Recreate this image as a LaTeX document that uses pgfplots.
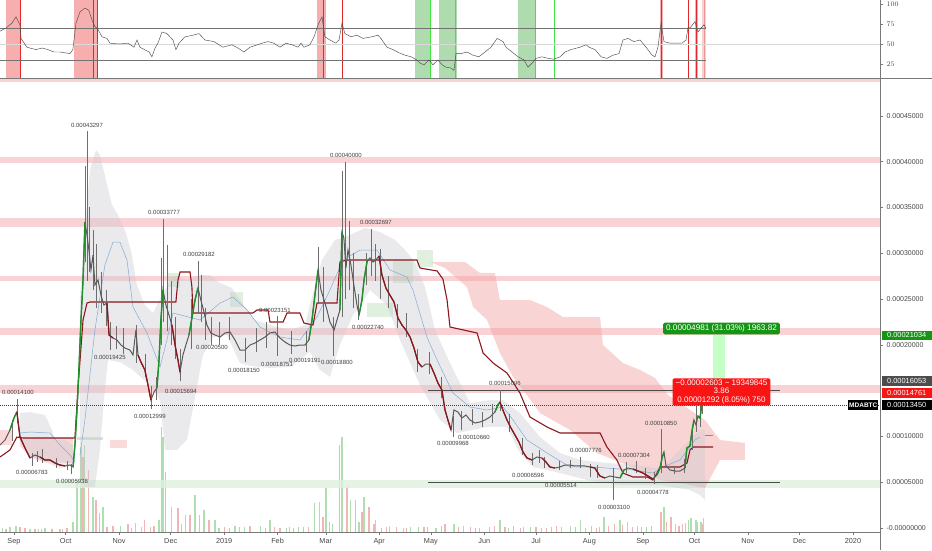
\documentclass[border=0pt]{standalone}
\usepackage{pgfplots}
\pgfplotsset{compat=1.18}
\usepackage{pgfplotstable}
\usepackage{fontspec}
\setmainfont{Liberation Sans}

\definecolor{zone}{RGB}{249,210,214}
\definecolor{zoneg}{RGB}{222,240,222}
\definecolor{patchg}{RGB}{150,205,150}
\definecolor{cloudg}{RGB}{200,200,208}
\definecolor{kumo}{RGB}{242,160,160}
\definecolor{dkred}{RGB}{140,22,28}
\definecolor{cgreen}{RGB}{30,145,40}
\definecolor{maline}{RGB}{130,170,215}
\definecolor{axisgray}{RGB}{120,120,120}
\definecolor{txt}{RGB}{70,70,70}
\definecolor{tvgreen}{RGB}{20,150,20}
\definecolor{tvred}{RGB}{250,20,20}
\definecolor{volg}{RGB}{175,222,175}
\definecolor{volr}{RGB}{242,180,180}
\definecolor{wick}{RGB}{110,110,110}
\definecolor{rsired}{RGB}{242,140,140}
\definecolor{rsiredl}{RGB}{225,40,40}
\definecolor{rsigreen}{RGB}{140,205,140}
\definecolor{rsigreenl}{RGB}{60,230,60}

% close prices, in units of 1e-8 BTC
\pgfplotstableread{
d c
-8.1 9061
-5.2 9607
-2.3 10699
0.0 12009
1.7 12664
3.5 9934
6.4 8734
9.3 7642
12.2 7969
15.1 7751
18.0 7424
20.9 7424
23.8 7096
26.7 6878
29.6 6769
32.5 6878
34.3 6659
35.4 9061
36.6 12882
37.7 17249
38.9 22707
40.1 27074
41.2 33406
42.4 31987
43.5 30349
44.7 28166
45.9 29803
47.0 26528
48.8 27074
50.5 25437
52.2 24345
54.0 24563
55.2 21070
57.5 20742
59.8 20524
62.1 19978
64.4 19651
67.3 19432
69.1 18886
70.8 21616
72.0 18886
73.7 18122
76.0 17249
77.8 15611
79.5 13974
81.3 14847
83.0 15284
84.2 18341
85.3 22707
86.5 25982
88.2 24345
90.0 23253
91.7 22162
93.5 19978
95.2 18341
96.4 17031
98.1 18886
99.8 19978
101.6 21070
103.3 22926
105.1 24891
106.8 26201
108.5 24891
110.3 23581
112.0 22162
114.3 21288
116.7 21070
119.6 20851
122.5 21288
125.4 21397
128.3 20524
131.2 19432
134.1 19432
137.0 19978
139.9 20196
142.8 20524
145.7 20851
148.6 21288
151.5 21397
154.4 20742
157.3 20306
160.2 19978
163.1 19869
166.0 19978
168.9 19978
171.2 20524
173.0 22707
174.7 25437
176.5 28166
178.2 25982
180.0 24891
181.7 23799
183.4 22489
185.8 21616
187.5 22707
189.2 23799
190.4 32314
191.5 31659
192.7 28384
193.9 30349
195.6 28712
197.3 26528
199.1 24345
200.3 23253
202.0 24891
203.2 27074
204.9 29039
206.6 29476
208.4 29039
210.1 29258
211.9 29694
213.6 27620
215.9 26201
218.2 25437
220.6 24672
222.9 22926
225.2 22162
227.5 21616
229.9 20851
232.2 19651
234.5 18122
236.8 17576
239.1 17904
241.5 17904
243.8 16921
246.1 15830
248.4 15065
250.2 12882
251.9 11790
253.7 10699
255.4 12882
257.7 12664
260.0 12009
262.4 12336
264.7 11790
267.6 11463
270.5 11572
273.4 11790
276.3 12118
279.2 12664
280.9 13428
282.1 13755
283.8 12882
286.2 11790
288.5 10917
290.8 10153
293.1 9389
295.5 8297
297.8 7642
300.7 7424
303.6 7751
306.5 7642
308.8 7205
311.1 6659
314.0 6550
316.9 6659
319.8 6878
322.7 6878
325.6 6769
328.5 6769
331.4 6769
334.3 6659
337.2 6550
340.1 5677
343.0 5459
345.9 5677
348.8 5568
351.8 5459
354.1 6332
356.4 6550
359.3 6441
362.2 6223
365.1 6004
368.0 5677
370.9 5349
373.2 5786
375.0 6550
376.2 7642
377.3 8297
378.5 6769
380.8 6332
383.7 6223
386.6 6223
389.5 6550
390.6 8734
392.4 8952
393.5 10480
394.7 11790
395.9 11245
397.0 12227
398.2 12009
399.3 13450
}\closes

% wicks: low and high
\pgfplotstableread{
d lo hi
-1.2 9500 11800
1.7 11500 14100
10.5 6783 8200
13.5 7200 8400
16.3 7100 8600
24.4 6500 7600
30.8 6300 7300
33.0 5938 7000
41.2 29000 39500
42.4 27000 43297
43.5 28000 35000
45.9 26000 32500
47.6 24000 31000
50.5 23500 28000
53.4 22000 26000
56.0 19425 22500
59.2 19500 22000
63.3 19000 21800
70.8 18000 22200
76.0 16500 19000
79.5 12999 15500
82.5 14000 16500
85.3 20000 29500
86.9 22500 33777
88.8 21500 30900
91.1 20000 27000
93.5 18500 23000
96.4 16000 19500
102.7 19500 25000
106.8 23500 29182
108.5 22500 27600
111.1 20500 24000
114.3 20000 23000
119.0 20000 22500
124.8 20500 23000
134.1 18150 20700
140.5 19200 21800
146.3 19700 22500
152.7 18751 23151
160.8 19000 21500
169.5 19191 21500
176.5 24500 30700
179.4 22500 28500
185.2 18800 23000
190.4 23000 39000
192.1 25000 40000
194.5 26000 33500
196.8 24000 30000
199.7 22740 25500
204.3 26500 30000
207.2 27500 32697
209.5 27000 31000
212.5 25000 30500
217.1 24000 27500
222.3 21800 24500
227.5 20800 23500
234.0 17000 19500
240.9 16800 19200
247.8 14200 16500
254.8 9968 12200
259.4 10660 12800
265.9 11200 13000
271.7 11000 12700
277.5 11500 13500
282.1 12800 15096
287.3 10500 12500
294.9 8000 9800
300.7 6900 8200
304.8 7100 8500
307.7 6596 7800
316.3 6300 7300
322.7 6500 7400
328.5 6500 7776
334.3 5514 7000
338.3 5500 6900
347.7 3100 6500
355.3 6000 7200
361.1 6000 7304
366.3 5400 6500
371.5 4778 6100
375.6 6000 10850
383.1 5900 6800
389.0 6000 7500
393.5 8500 11000
395.9 10500 13400
398.2 11000 13600
399.3 12500 13700
}\wicks

% RSI
\pgfplotstableread{
d r
-8.1 66
-4.6 70
-1.2 76
1.2 84
3.5 74
4.1 57
7.5 46
12.8 43
16.3 45
19.7 43
23.2 40
26.7 40
29.6 39
32.5 38
34.2 43
36.0 76
38.3 90
41.2 95
43.5 92
45.3 80
47.0 72
48.8 68
51.1 59
54.0 57
55.7 51
61.0 50
66.2 51
69.7 46
71.4 55
73.1 46
78.4 40
80.1 34
81.9 45
83.6 51
85.9 65
88.8 63
92.3 55
94.0 43
95.8 51
99.3 59
103.9 61
107.4 63
110.9 55
116.1 53
121.3 46
126.5 49
130.0 45
133.5 40
137.0 46
144.0 51
147.4 53
150.9 51
154.4 46
157.9 51
161.4 49
164.9 46
166.6 51
168.3 46
171.8 49
174.2 59
176.5 74
178.8 84
180.5 59
183.4 55
186.9 51
188.7 55
190.4 76
192.1 63
195.6 59
199.1 61
202.6 57
207.8 59
211.3 61
213.0 57
216.5 46
220.0 43
223.5 39
227.0 36
230.5 34
233.9 30
235.7 26
238.0 24
240.9 30
243.2 24
246.1 30
248.5 24
250.8 21
253.7 20
255.4 17
256.6 38
259.5 38
263.0 40
266.5 36
269.9 34
273.4 40
276.9 46
280.4 57
283.9 53
285.6 46
289.1 40
292.6 34
296.1 30
298.4 21
300.7 26
303.0 32
306.5 34
310.0 32
313.5 31
317.0 34
319.9 40
323.3 43
328.6 46
332.1 49
333.8 46
337.3 43
340.8 34
344.2 32
347.7 36
351.2 38
353.5 55
356.4 57
359.9 53
363.4 55
366.9 46
370.4 36
372.1 34
373.8 46
375.6 76
377.3 53
380.8 51
384.3 51
387.8 51
390.1 55
391.3 71
392.4 70
395.3 78
397.1 65
398.8 70
400.5 74
401.7 70
}\rsi

\begin{document}
\begin{tikzpicture}
\useasboundingbox (0pt,0pt) rectangle (932pt,550pt);

% ---------- volume ----------
\begin{axis}[at={(0pt,18pt)}, anchor=south west, width=880pt, height=452pt,
  scale only axis, xmin=-8.1, xmax=502.7, ymin=0, ymax=452, hide axis]
\addplot[ycomb, volg, line width=1.1pt] coordinates {
(-6.9,4)(-2.3,5)(1.2,6)(9.3,3)(14.5,3)(18.0,4)(26.7,3)(34.3,10)(36.6,52)(38.9,85)
(41.2,87)(45.9,35)(51.7,25)(58,4)(62.1,6)(70.8,9)(74,5)(84.2,12)(86.5,95)(91.7,25)
(95,6)(99.8,17)(105.1,37)(110.3,22)(116.7,12)(119,4)(128.3,6)(134,5)(143,6)(148.6,12)
(158,4)(160.2,5)(165,5)(174.7,29)(177.6,30)(181.1,44)(185,8)(190.4,95)(195.6,32)
(200.3,10)(203.2,35)(210.1,12)(218,6)(226,4)(230.0,5)(235,5)(245,4)(255.4,8)(261,6)
(270,4)(276,5)(282.1,12)(287,4)(296,5)(300.0,5)(306,4)(318,5)(323,6)(328.6,12)
(332,4)(340,5)(342.5,15)(351.8,12)(356,10)(362,6)(367,5)(377.3,25)(384,8)(391.3,12)
(393,14)(395.9,12)(398.8,10)(400.5,14)};
\addplot[ycomb, volr, line width=1.1pt] coordinates {
(-4.6,3)(3.5,5)(6.4,4)(12.2,3)(16,3)(22.1,3)(28,3)(30.8,4)(40.1,75)(43.5,62)
(47.6,32)(49.4,19)(54,5)(57.5,6)(66.2,8)(68,4)(76.0,12)(79,5)(81.3,6)(85.6,105)
(88.2,60)(95.2,24)(97,8)(102.2,17)(107.9,17)(113.2,12)(122.0,5)(125,4)(131,5)(137.0,6)
(146,4)(151,5)(154.4,4)(162,4)(168.3,5)(171,5)(179.4,15)(183,10)(189.2,87)(193.3,45)
(198.5,32)(202,20)(206.1,25)(209,8)(213.6,4)(216,5)(222.0,5)(228,4)(238,5)(240.0,5)
(248,6)(250.2,8)(258,5)(265.0,5)(268,4)(279,6)(285,5)(290.0,6)(294,4)(303,5)
(309,4)(312.0,5)(315,6)(326,5)(335.0,6)(338,4)(345,6)(348.8,8)(353,7)(359,5)
(364,5)(370.0,6)(375.6,20)(379,10)(381.4,15)(386,6)(388.0,8)(390,9)(397.0,10)(399.5,8)};
\end{axis}

% ---------- price panel ----------
\begin{axis}[at={(0pt,18pt)}, anchor=south west, width=880pt, height=452pt,
  scale only axis, clip=false, scaled y ticks=false,
  xmin=-8.1, xmax=502.7, ymin=-437, ymax=48910,
  axis x line*=bottom, axis y line*=right,
  axis line style={axisgray, line width=0.6pt, -},
  xtick={0,30,61,91,122,153,181,212,242,273,303,334,365,395,426,456,487},
  xticklabels={Sep,Oct,Nov,Dec,2019,Feb,Mar,Apr,May,Jun,Jul,Aug,Sep,Oct,Nov,Dec,2020},
  ytick={0,5000,10000,20000,25000,30000,35000,40000,45000},
  yticklabels={-0.00000000,0.00005000,0.00010000,0.00020000,0.00025000,0.00030000,0.00035000,0.00040000,0.00045000},
  tick align=outside, major tick length=3pt,
  tick style={axisgray, line width=0.5pt},
  xticklabel style={font=\fontsize{7.3}{8}\selectfont, text=txt},
  yticklabel style={font=\fontsize{7}{8}\selectfont, text=txt},
]
% horizontal zones
\addplot[fill=zone, draw=none] coordinates {(-8.1,48690)(502.7,48690)(502.7,48910)(-8.1,48910)} -- cycle;
\addplot[fill=zone, draw=none] coordinates {(-8.1,39850)(502.7,39850)(502.7,40500)(-8.1,40500)} -- cycle;
\addplot[fill=zone, draw=none] coordinates {(-8.1,32860)(502.7,32860)(502.7,33840)(-8.1,33840)} -- cycle;
\addplot[fill=zone, draw=none] coordinates {(-8.1,26970)(502.7,26970)(502.7,27510)(-8.1,27510)} -- cycle;
\addplot[fill=zone, draw=none] coordinates {(-8.1,21070)(502.7,21070)(502.7,21830)(-8.1,21830)} -- cycle;
\addplot[fill=zone, draw=none] coordinates {(-8.1,14740)(502.7,14740)(502.7,15610)(-8.1,15610)} -- cycle;
\addplot[fill=zoneg, draw=none, fill opacity=0.8] coordinates {(-8.1,4370)(502.7,4370)(502.7,5240)(-8.1,5240)} -- cycle;

% future cloud
\addplot[fill=kumo, draw=none, fill opacity=0.45] coordinates {
(241.5,29040)(261.8,29040)(270.5,27840)(279.2,27840)(282.1,24890)(299.5,24890)(309.4,24130)
(318.7,23030)(340.2,23030)(341.9,19980)(353.5,18010)(363.4,17250)(372.1,16380)(379.6,14520)
(392.4,12880)(401.1,11790)(409.8,9610)(424.3,9280)(424.3,7420)(409.8,7420)(401.1,4370)
(392.4,4690)(375.0,5240)(355.8,6880)(338.4,8190)(322.8,10700)(305.3,12550)(295.5,15070)
(289.7,16490)(282.1,19100)(274.6,22710)(266.5,24130)(263.0,26310)(250.2,28380)} -- cycle;
\addplot[fill=kumo, draw=none, fill opacity=0.4] coordinates {(3.5,9830)(34.3,9830)(34.3,7100)(18,7200)(9.3,7700)(3.5,9000)} -- cycle;
\addplot[fill=kumo, draw=none, fill opacity=0.4] coordinates {(-8.1,10700)(-1.2,10700)(-1.2,9060)(-8.1,9060)} -- cycle;
\addplot[fill=kumo, draw=none, fill opacity=0.4] coordinates {(55.7,9610)(65.6,9610)(65.6,8730)(55.7,8730)} -- cycle;
% green patches
\addplot[fill=patchg, draw=none, fill opacity=0.3] coordinates {(220.0,29260)(231.6,29260)(231.6,26750)(220.0,26750)} -- cycle;
\addplot[fill=patchg, draw=none, fill opacity=0.3] coordinates {(233.9,30350)(243.2,30350)(243.2,28490)(233.9,28490)} -- cycle;
\addplot[fill=patchg, draw=none, fill opacity=0.3] coordinates {(204.9,24560)(220.0,24560)(220.0,23030)(204.9,23030)} -- cycle;
\addplot[fill=patchg, draw=none, fill opacity=0.3] coordinates {(125.4,25760)(132.9,25760)(132.9,24130)(125.4,24130)} -- cycle;
\addplot[fill=patchg, draw=none, fill opacity=0.3] coordinates {(88.8,27840)(96.4,27840)(96.4,26310)(88.8,26310)} -- cycle;
\addplot[fill=patchg, draw=none, fill opacity=0.45] coordinates {(36.6,9930)(51.7,9930)(51.7,9610)(36.6,9610)} -- cycle;

% gray band
\addplot[fill=cloudg, draw=none, fill opacity=0.38] coordinates {
(3.5,12560)(9.3,12660)(18.0,12340)(22.1,10700)(23.8,9610)(29.6,9610)(34.3,9060)
(34.3,6880)(26.7,6550)(18.0,7210)(9.3,7970)(3.5,9610)} -- cycle;
\addplot[fill=cloudg, draw=none, fill opacity=0.38] coordinates {
(38.3,24890)(41.2,32530)(44.1,39080)(47.6,41270)(49.9,40720)(53.4,37990)(56.9,35260)(60.4,34170)
(64.4,32530)(67.9,30350)(71.4,26530)(76.0,24350)(80.7,23470)(86.5,25660)(92.3,27400)(100.4,27070)
(108.0,27620)(113.8,27620)(119.6,26750)(126.5,26200)(131.2,24890)(139.9,22710)(148.6,22160)
(160.2,21620)(168.9,22160)(174.7,26530)(178.8,29260)(186.3,31440)(195.0,31990)(203.8,32750)
(212.5,32310)(221.2,31440)(227.0,30350)(232.8,29040)(238.6,26310)(244.4,21620)(253.1,18010)
(264.7,13650)(276.3,13970)(283.9,13970)(293.7,12560)(305.3,9930)(317.0,8190)(328.6,7420)
(344.2,7100)(361.7,6880)(372.1,6550)(377.9,6880)(392.4,9610)(398.2,10700)(401.1,10700)
(401.1,3060)(398.2,3600)(392.4,4150)(375.0,4690)(351.8,4690)(332.6,5240)(317.0,6000)
(301.3,6660)(293.7,8190)(286.2,11030)(274.6,11030)(257.2,10370)(247.3,11790)(235.7,15610)
(224.1,20520)(216.5,24350)(206.7,25980)(196.8,23250)(189.2,19980)(183.4,16490)(177.6,17250)
(171.8,19210)(160.2,17580)(148.6,17470)(137.0,17690)(131.2,18010)(123.6,21070)(115.5,20850)
(109.7,18890)(106.2,15390)(100.4,9610)(94.6,8520)(87.7,8520)(84.8,13970)(78.9,15610)
(69.1,17250)(61.5,18120)(54.6,18340)(52.2,13970)(49.9,8520)(47.0,4480)(41.2,4480)(38.3,6330)} -- cycle;

% moving average
\addplot[maline, line width=0.5pt] coordinates {
(3.5,10370)(9.3,10480)(20.9,10370)(26.7,9060)(32.5,7970)(35.4,7210)};
\addplot[maline, line width=0.5pt] coordinates {
(38.3,7970)(41.2,11790)(47.0,21620)(52.8,28710)(57.5,31220)(61.5,31220)(65.6,29260)
(69.1,24130)(77.2,21290)(84.8,17580)(88.8,20520)(92.3,23470)(108.0,22710)(119.6,24560)
(127.1,25220)(135.3,23800)(142.8,21940)(154.4,20850)(166.0,20520)(175.9,23030)(183.4,25980)
(191.0,29260)(200.9,30350)(210.7,30350)(218.3,28170)(228.1,27400)(231.6,25980)(239.7,20850)
(245.6,18340)(254.8,14740)(264.7,13210)(274.6,12880)(283.9,13210)(289.7,11790)(297.8,9610)
(309.4,8190)(322.8,6660)(336.1,6660)(359.3,6330)(370.9,6000)(376.7,6660)(386.6,7420)
(395.3,9610)(398.2,9930)};
\addplot[maline!80!blue, line width=1pt] coordinates {(401.1,10150)(405.8,10150)};

% trailing line
\addplot[dkred, line width=1.1pt] coordinates {
(-8.1,7750)(-2.3,8520)(1.7,9930)(5.2,9830)(35.4,9830)(37.2,15390)(40.1,22710)(42.4,24560)
(44.1,24670)(94.0,24670)(95.2,27070)(96.4,27950)(102.2,27950)(103.3,26310)(103.9,23470)
(138.7,23470)(141.1,23800)(147.5,23800)(148.6,22490)(156.2,22490)(158.5,23470)(166.0,23470)
(168.3,22380)(173.6,22160)(175.9,24560)(187.5,24560)(189.2,29040)(193.3,29260)(233.9,29260)
(235.7,28380)(245.6,28060)(249.0,27180)(251.4,24890)(253.1,21940)(268.8,21290)(272.3,19100)
(278.1,18010)(286.2,16920)(293.7,14740)(299.5,12120)(309.4,11030)(317.0,10370)(340.2,10370)
(344.2,8840)(350.0,7420)(353.5,6000)(359.3,5570)(367.5,5570)(370.9,5240)(373.3,6000)
(375.0,6660)(386.6,6660)(390.7,7100)(392.4,8520)(394.2,8840)(405.8,8840)};

% reference lines
\addplot[black!70, line width=0.6pt] coordinates {(240.3,15070)(444.7,15070)};
\addplot[black!70, line width=0.6pt] coordinates {(240.3,5020)(444.7,5020)};
\addplot[black!75, line width=0.5pt, dash pattern=on 1pt off 1pt] coordinates {(-8.1,13450)(502.7,13450)};

% target zone
\addplot[fill=green!50!white, draw=none, fill opacity=0.45] coordinates {(405.7,16053)(412.7,16053)(412.7,21034)(405.7,21034)} -- cycle;

% candles
\addplot[draw=none, mark=none, error bars/.cd, y dir=plus, y explicit,
  error mark=none, error bar style={draw=wick, line width=0.5pt}]
  table[x=d, y=lo, y error expr=\thisrow{hi}-\thisrow{lo}] {\wicks};
\addplot[black!65, line width=1pt] table[x=d, y=c] {\closes};
\addplot[cgreen, line width=1.4pt] coordinates {(-2.3,10699)(0.0,12009)(1.7,12664)};
\addplot[cgreen, line width=1.4pt] coordinates {(34.3,6659)(35.4,9061)(36.6,12882)(37.7,17249)(38.9,22707)(40.1,27074)(41.2,33406)};
\addplot[cgreen, line width=1.4pt] coordinates {(83.0,15284)(84.2,18341)(85.3,22707)(86.5,25982)};
\addplot[cgreen, line width=1.4pt] coordinates {(101.6,21070)(103.3,22926)(105.1,24891)(106.8,26201)};
\addplot[cgreen, line width=1.4pt] coordinates {(171.2,20524)(173.0,22707)(174.7,25437)(176.5,28166)};
\addplot[cgreen, line width=1.4pt] coordinates {(189.2,23799)(190.4,32314)};
\addplot[cgreen, line width=1.4pt] coordinates {(200.3,23253)(202.0,24891)(203.2,27074)(204.9,29039)};
\addplot[cgreen, line width=1.4pt] coordinates {(279.2,12664)(280.9,13428)(282.1,13755)};
\addplot[cgreen, line width=1.4pt] coordinates {(351.8,5459)(354.1,6332)};
\addplot[cgreen, line width=1.4pt] coordinates {(373.2,5786)(375.0,6550)(376.2,7642)(377.3,8297)};
\addplot[cgreen, line width=1.4pt] coordinates {(389.5,6550)(390.6,8734)(392.4,8952)(393.5,10480)(394.7,11790)};
\addplot[cgreen, line width=1.4pt] coordinates {(397.0,12227)(398.2,12009)(399.3,13450)};
\addplot[dkred, line width=1.3pt] coordinates {(1.7,12664)(3.5,9934)(6.4,8734)(9.3,7642)};
\addplot[dkred, line width=1.3pt] coordinates {(15.1,7751)(18.0,7424)(20.9,7424)(23.8,7096)(26.7,6878)(29.6,6769)};
\addplot[dkred, line width=1.3pt] coordinates {(54.0,24563)(55.2,21070)(57.5,20742)};
\addplot[dkred, line width=1.3pt] coordinates {(72.0,18886)(73.7,18122)(76.0,17249)(77.8,15611)(79.5,13974)};
\addplot[dkred, line width=1.3pt] coordinates {(91.7,22162)(93.5,19978)(95.2,18341)(96.4,17031)};
\addplot[dkred, line width=1.3pt] coordinates {(211.9,29694)(213.6,27620)(215.9,26201)(218.2,25437)(220.6,24672)(222.9,22926)(225.2,22162)(227.5,21616)(229.9,20851)(232.2,19651)(234.5,18122)(236.8,17576)};
\addplot[dkred, line width=1.3pt] coordinates {(241.5,17904)(243.8,16921)(246.1,15830)(248.4,15065)(250.2,12882)(251.9,11790)(253.7,10699)};
\addplot[dkred, line width=1.3pt] coordinates {(282.1,13755)(283.8,12882)(286.2,11790)(288.5,10917)(290.8,10153)(293.1,9389)(295.5,8297)(297.8,7642)(300.7,7424)};
\addplot[dkred, line width=1.3pt] coordinates {(306.5,7642)(308.8,7205)(311.1,6659)(314.0,6550)};
\addplot[dkred, line width=1.3pt] coordinates {(334.3,6659)(337.2,6550)(340.1,5677)(343.0,5459)};
\addplot[dkred, line width=1.3pt] coordinates {(359.3,6441)(362.2,6223)(365.1,6004)(368.0,5677)(370.9,5349)};

% price annotations
\begin{scope}[every node/.style={font=\fontsize{6}{6}\selectfont, text=black!75, inner sep=0pt}]
\node at (axis cs:42.4,43995) {0.00043297};
\node at (axis cs:87.1,34498) {0.00033777};
\node at (axis cs:107.4,29913) {0.00029182};
\node at (axis cs:192.7,40720) {0.00040000};
\node at (axis cs:210.1,33406) {0.00032697};
\node at (axis cs:151.5,23799) {0.00023151};
\node at (axis cs:205.5,21943) {0.00022740};
\node at (axis cs:55.7,18668) {0.00019425};
\node at (axis cs:114.9,19760) {0.00020500};
\node at (axis cs:133.5,17249) {0.00018150};
\node at (axis cs:152.7,17904) {0.00018751};
\node at (axis cs:168.9,18341) {0.00019191};
\node at (axis cs:187.5,18122) {0.00018800};
\node at (axis cs:2.3,14847) {0.00014100};
\node at (axis cs:78.9,12227) {0.00012999};
\node at (axis cs:96.9,14956) {0.00015694};
\node at (axis cs:10.4,6114) {0.00006783};
\node at (axis cs:33.7,5131) {0.00005938};
\node at (axis cs:285.0,15830) {0.00015096};
\node at (axis cs:267.0,9934) {0.00010660};
\node at (axis cs:254.8,9279) {0.00009968};
\node at (axis cs:298.4,5786) {0.00006596};
\node at (axis cs:332.0,8515) {0.00007776};
\node at (axis cs:317.5,4694) {0.00005514};
\node at (axis cs:348.3,2293) {0.00003100};
\node at (axis cs:359.9,7969) {0.00007304};
\node at (axis cs:370.9,3930) {0.00004778};
\node at (axis cs:375.6,11463) {0.00010850};
\end{scope}

% measure boxes
\node[fill=tvgreen, text=white, rounded corners=1.5pt, inner xsep=3pt, inner ysep=2pt,
  font=\fontsize{8.2}{9}\selectfont] at (axis cs:410.7,21779) {0.00004981 (31.03\%) 1963.82};
\node[fill=tvred, text=white, rounded corners=1.5pt, inner xsep=3pt, inner ysep=1.5pt, align=center,
  font=\fontsize{8}{8.6}\selectfont] at (axis cs:410.7,14847)
  {−0.00002603 \textasciitilde{} 19349845\\3.86\\0.00001292 (8.05\%) 750};

% price scale labels
\begin{scope}[every node/.style={anchor=west, text=white, inner sep=0pt, minimum width=50pt,
  minimum height=9.5pt, xshift=1.5pt, font=\fontsize{7.4}{8}\selectfont}]
\node[fill=tvgreen] at (axis cs:502.7,21034) {0.00021034};
\node[fill=black!70] at (axis cs:502.7,16053) {0.00016053};
\node[fill=tvred] at (axis cs:502.7,14761) {0.00014761};
\node[fill=black] at (axis cs:502.7,13450) {0.00013450};
\end{scope}
\node[fill=black, text=white, inner sep=0pt, minimum width=30pt, minimum height=9.5pt,
  anchor=east, xshift=-1.5pt, font=\bfseries\fontsize{6.5}{7}\selectfont] at (axis cs:502.7,13450) {MDABTC};
\end{axis}

% ---------- RSI panel ----------
\begin{axis}[at={(0pt,472pt)}, anchor=south west, width=880pt, height=78pt,
  scale only axis, xmin=-8.1, xmax=502.7, ymin=7.5, ymax=105,
  axis x line=none, axis y line*=right,
  axis line style={axisgray, line width=0.6pt, -},
  ytick={25,50,75,100},
  tick align=outside, major tick length=3pt,
  tick style={axisgray, line width=0.5pt},
  yticklabel style={font=\fontsize{7}{8}\selectfont, text=txt},
]
\addplot[fill=rsired, draw=none, fill opacity=0.7] coordinates {(-4.6,7.5)(4.1,7.5)(4.1,105)(-4.6,105)} -- cycle;
\addplot[fill=rsired, draw=none, fill opacity=0.7] coordinates {(34.8,7.5)(48.8,7.5)(48.8,105)(34.8,105)} -- cycle;
\addplot[fill=rsired, draw=none, fill opacity=0.7] coordinates {(175.9,7.5)(181.1,7.5)(181.1,105)(175.9,105)} -- cycle;
\addplot[fill=rsired, draw=none, fill opacity=0.7] coordinates {(375.0,7.5)(376.8,7.5)(376.8,105)(375.0,105)} -- cycle;
\addplot[fill=rsired, draw=none, fill opacity=0.7] coordinates {(395.3,7.5)(397.1,7.5)(397.1,105)(395.3,105)} -- cycle;
\addplot[fill=rsired, draw=none, fill opacity=0.4] coordinates {(399.4,7.5)(401.7,7.5)(401.7,105)(399.4,105)} -- cycle;
\addplot[fill=rsigreen, draw=none, fill opacity=0.7] coordinates {(232.8,7.5)(241.5,7.5)(241.5,105)(232.8,105)} -- cycle;
\addplot[fill=rsigreen, draw=none, fill opacity=0.7] coordinates {(246.7,7.5)(257.2,7.5)(257.2,105)(246.7,105)} -- cycle;
\addplot[fill=rsigreen, draw=none, fill opacity=0.7] coordinates {(292.6,7.5)(302.4,7.5)(302.4,105)(292.6,105)} -- cycle;
\addplot[rsiredl, line width=0.8pt] coordinates {(3.5,7.5)(3.5,105)};
\addplot[rsiredl, line width=0.8pt] coordinates {(45.9,7.5)(45.9,105)};
\addplot[rsiredl, line width=0.8pt] coordinates {(48.5,7.5)(48.5,105)};
\addplot[rsiredl, line width=0.8pt] coordinates {(179.4,7.5)(179.4,105)};
\addplot[rsiredl, line width=0.8pt] coordinates {(190.4,7.5)(190.4,105)};
\addplot[rsiredl, line width=0.8pt] coordinates {(375.6,7.5)(375.6,105)};
\addplot[rsiredl, line width=0.8pt] coordinates {(391.5,7.5)(391.5,105)};
\addplot[rsiredl, line width=0.8pt] coordinates {(396.2,7.5)(396.2,105)};
\addplot[rsiredl!50, line width=0.8pt] coordinates {(400.8,7.5)(400.8,105)};
\addplot[rsigreenl, line width=0.8pt] coordinates {(241.8,7.5)(241.8,105)};
\addplot[rsigreenl, line width=0.8pt] coordinates {(256.3,7.5)(256.3,105)};
\addplot[rsigreenl, line width=0.8pt] coordinates {(302.4,7.5)(302.4,105)};
\addplot[rsigreenl, line width=0.8pt] coordinates {(313.5,7.5)(313.5,105)};
\addplot[black!15, line width=0.6pt] coordinates {(-8.1,50)(502.7,50)};
\addplot[black!55, line width=0.5pt] coordinates {(-8.1,70)(401.7,70)};
\addplot[black!55, line width=0.5pt] coordinates {(-8.1,30)(401.7,30)};
\addplot[black!70, line width=0.45pt] table[x=d, y=r] {\rsi};
\end{axis}

% panel frame
\fill[zone] (0pt,469pt) rectangle (880pt,471pt);
\draw[axisgray, line width=0.7pt] (0pt,471.5pt) -- (932pt,471.5pt);
\draw[axisgray, line width=0.6pt] (880pt,0pt) -- (880pt,550pt);
\end{tikzpicture}
\end{document}
